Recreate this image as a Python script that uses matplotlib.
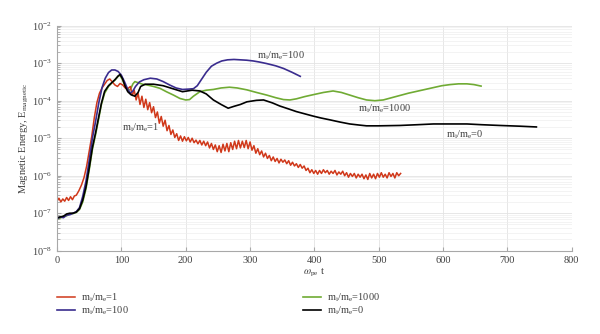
import matplotlib
matplotlib.use('Agg')
import matplotlib.pyplot as plt
import numpy as np

plt.rcParams['font.family'] = ['Liberation Serif', 'DejaVu Serif']
plt.rcParams['mathtext.fontset'] = 'stix'

# --- data (log10 of magnetic energy) ---
t_red = [0, 3, 6, 9, 12, 15, 18, 21, 24, 27, 30, 34, 38, 42, 46, 50, 54, 58,
         62, 66, 70, 74, 78, 82, 86, 90, 94, 98, 102, 106, 110] + list(range(114, 535, 3))
logE_red = [-6.68, -6.60, -6.70, -6.62, -6.68, -6.58, -6.66, -6.56, -6.64, -6.54,
            -6.52, -6.40, -6.25, -6.05, -5.75, -5.35, -4.95, -4.45, -4.05, -3.80,
            -3.66, -3.56, -3.46, -3.42, -3.50, -3.58, -3.62, -3.54, -3.58, -3.66, -3.68,
            -3.62, -3.86, -3.72, -3.98, -3.80, -4.10, -3.88, -4.18, -3.96, -4.24,
            -4.05, -4.32, -4.16, -4.45, -4.30, -4.60, -4.42, -4.68, -4.52, -4.80,
            -4.66, -4.90, -4.78, -4.98, -4.88, -5.06, -4.94, -5.08, -4.96, -5.07,
            -4.98, -5.10, -5.00, -5.12, -5.05, -5.15, -5.06, -5.18, -5.08, -5.20,
            -5.10, -5.26, -5.14, -5.30, -5.18, -5.36, -5.20, -5.38, -5.16, -5.34,
            -5.14, -5.36, -5.12, -5.30, -5.08, -5.28, -5.06, -5.26, -5.08, -5.25,
            -5.06, -5.28, -5.10, -5.32, -5.20, -5.40, -5.28, -5.44, -5.34, -5.50,
            -5.40, -5.54, -5.46, -5.60, -5.50, -5.62, -5.54, -5.66, -5.56, -5.64,
            -5.58, -5.68, -5.60, -5.72, -5.64, -5.74, -5.68, -5.78, -5.70, -5.80,
            -5.74, -5.86, -5.80, -5.92, -5.84, -5.94, -5.86, -5.96, -5.86, -5.94,
            -5.84, -5.92, -5.86, -5.96, -5.88, -5.94, -5.86, -5.98, -5.90, -5.96,
            -5.88, -6.00, -5.92, -6.04, -5.94, -6.02, -5.94, -6.06, -5.96, -6.04,
            -5.96, -6.08, -5.98, -6.10, -5.94, -6.06, -5.96, -6.08, -5.94, -6.04,
            -5.92, -6.04, -5.96, -6.06, -5.92, -6.02, -5.94, -6.06, -5.92, -6.00, -5.94]

t_blue = [0, 5, 10, 15, 20, 25, 30, 35, 40, 45, 50, 55, 60, 65, 70, 75, 80, 85,
          90, 95, 100, 105, 110, 114, 118, 122, 128, 135, 145, 155, 165, 175, 185,
          195, 205, 212, 218, 225, 232, 240, 248, 256, 265, 275, 285, 295, 305,
          315, 326, 340, 352, 365, 378]
logE_blue = [-7.15, -7.10, -7.12, -7.05, -7.04, -7.00, -6.96, -6.85, -6.55, -6.15,
             -5.60, -5.00, -4.55, -4.05, -3.65, -3.40, -3.25, -3.18, -3.18, -3.22,
             -3.32, -3.50, -3.70, -3.80, -3.74, -3.62, -3.50, -3.44, -3.40, -3.42,
             -3.49, -3.58, -3.66, -3.70, -3.69, -3.68, -3.60, -3.42, -3.24, -3.08,
             -3.00, -2.94, -2.91, -2.90, -2.91, -2.92, -2.94, -2.97, -3.01, -3.07,
             -3.14, -3.24, -3.35]

t_green = [0, 5, 10, 15, 20, 25, 30, 35, 40, 45, 50, 55, 60, 64, 69, 74, 80, 85,
           90, 95, 98, 102, 106, 110, 114, 118, 121, 126, 133, 140, 150, 160, 170,
           181, 191, 200, 206, 212, 222, 232, 243, 255, 268, 280, 295, 310, 326,
           340, 352, 362, 372, 385, 398, 414, 429, 442, 455, 468, 481, 494, 507,
           520, 533, 546, 559, 572, 585, 598, 611, 624, 637, 648, 659]
logE_green = [-7.15, -7.13, -7.08, -7.07, -7.02, -7.01, -6.98, -6.90, -6.70, -6.35,
              -5.85, -5.30, -4.90, -4.55, -4.10, -3.80, -3.62, -3.53, -3.45, -3.35,
              -3.32, -3.45, -3.62, -3.72, -3.70, -3.55, -3.49, -3.52, -3.56, -3.58,
              -3.62, -3.67, -3.76, -3.85, -3.94, -3.98, -3.97, -3.88, -3.76, -3.72,
              -3.70, -3.66, -3.64, -3.66, -3.71, -3.78, -3.85, -3.92, -3.97, -3.98,
              -3.95, -3.89, -3.84, -3.78, -3.74, -3.78, -3.85, -3.92, -3.98, -4.00,
              -3.98, -3.92, -3.86, -3.80, -3.75, -3.70, -3.65, -3.60, -3.57, -3.55,
              -3.55, -3.57, -3.61]

t_black = [0, 5, 10, 15, 20, 25, 30, 35, 40, 45, 50, 55, 60, 64, 69, 74, 80, 85,
           90, 95, 98, 102, 106, 110, 115, 121, 126, 130, 137, 150, 165, 180, 195,
           210, 222, 232, 243, 255, 266, 275, 285, 295, 310, 321, 335, 346, 360,
           372, 385, 398, 410, 424, 440, 455, 470, 481, 500, 533, 560, 585, 610,
           637, 660, 688, 720, 745]
logE_black = [-7.12, -7.10, -7.08, -7.02, -7.00, -7.00, -6.97, -6.88, -6.65, -6.30,
              -5.80, -5.25, -4.85, -4.50, -4.07, -3.75, -3.60, -3.52, -3.44, -3.34,
              -3.30, -3.42, -3.62, -3.76, -3.84, -3.88, -3.78, -3.62, -3.56, -3.56,
              -3.60, -3.68, -3.76, -3.72, -3.74, -3.82, -3.98, -4.10, -4.20, -4.15,
              -4.10, -4.03, -3.99, -3.98, -4.06, -4.14, -4.22, -4.29, -4.35, -4.41,
              -4.46, -4.51, -4.57, -4.62, -4.65, -4.67, -4.67, -4.66, -4.64, -4.62,
              -4.62, -4.62, -4.64, -4.66, -4.68, -4.70]

labels = [r'$\mathregular{m_i/m_e}$=1', r'$\mathregular{m_i/m_e}$=100',
          r'$\mathregular{m_i/m_e}$=1000', r'$\mathregular{m_i/m_e}$=0']
colors = ['#d0381a', '#3a2c8e', '#70ab34', '#000000']

fig = plt.figure(figsize=(6.0, 3.34), dpi=100)
ax = fig.add_axes([0.095, 0.2494, 0.858, 0.6736])

l_green, = ax.plot(t_green, 10 ** np.array(logE_green), color=colors[2], lw=1.2)
l_red, = ax.plot(t_red, 10 ** np.array(logE_red), color=colors[0], lw=1.1)
l_blue, = ax.plot(t_blue, 10 ** np.array(logE_blue), color=colors[1], lw=1.2)
l_black, = ax.plot(t_black, 10 ** np.array(logE_black), color=colors[3], lw=1.2)

ax.set_yscale('log')
ax.set_xlim(0, 800)
ax.set_ylim(1e-8, 1e-2)
ax.set_xticks(np.arange(0, 801, 100))

# grid / spines
ax.grid(which='major', color='#e3e3e3', lw=0.6)
ax.grid(which='minor', axis='y', color='#eeeeee', lw=0.5)
ax.set_axisbelow(True)
for s in ['top', 'right']:
    ax.spines[s].set_visible(False)
for s in ['left', 'bottom']:
    ax.spines[s].set_color('#a8a8a8')
ax.tick_params(which='both', direction='in', colors='#a8a8a8', labelcolor='#404040',
               labelsize=7.5)
ax.tick_params(which='major', length=3)
ax.tick_params(which='minor', length=2)

# curve labels
ax.text(311, 10 ** -2.79, labels[1], fontsize=7.5, color='#404040', va='center')
ax.text(101, 10 ** -4.73, labels[0], fontsize=7.5, color='#404040', va='center')
ax.text(468, 10 ** -4.22, labels[2], fontsize=7.5, color='#404040', va='center')
ax.text(605, 10 ** -4.92, labels[3], fontsize=7.5, color='#404040', va='center')

# axis labels
ax.set_xlabel(r'$\omega_{\mathregular{pe}}$ t', fontsize=7.5, color='#404040', labelpad=2)
ax.set_ylabel(r'Magnetic Energy, $\mathregular{E_{magnetic}}$', fontsize=7.5,
              color='#404040', labelpad=1)

# legends (two columns, below the axes)
leg_kw = dict(loc='upper left', frameon=False, fontsize=7.5, handlelength=1.7,
              handletextpad=0.6, labelspacing=0.1, borderpad=0, borderaxespad=0,
              labelcolor='#404040')
fig.legend([l_red, l_blue], labels[:2], bbox_to_anchor=(0.095, 0.128), **leg_kw)
fig.legend([l_green, l_black], labels[2:], bbox_to_anchor=(0.505, 0.128), **leg_kw)

fig.savefig('out.png', dpi=100)
